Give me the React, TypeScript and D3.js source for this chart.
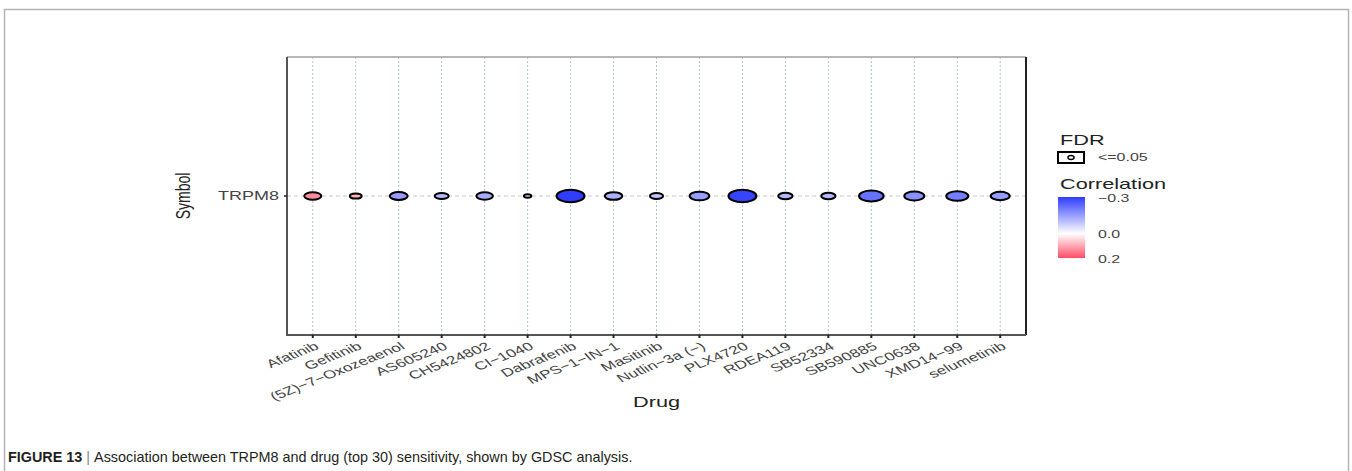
import React, { useEffect, useRef } from 'react';
import * as d3 from 'd3';

const drugs = [
  'Afatinib', 'Gefitinib', '(5Z)−7−Oxozeaenol', 'AS605240', 'CH5424802', 'CI−1040',
  'Dabrafenib', 'MPS−1−IN−1', 'Masitinib', 'Nutlin−3a (−)', 'PLX4720', 'RDEA119',
  'SB52334', 'SB590885', 'UNC0638', 'XMD14−99', 'selumetinib',
];
const symbols = ['TRPM8'];
// correlation of TRPM8 expression with drug sensitivity
const correlation = [0.13, 0.09, -0.15, -0.11, -0.13, -0.05, -0.3, -0.12, -0.09, -0.15, -0.29, -0.11, -0.11, -0.22, -0.17, -0.2, -0.15];
// bubble size (-log10 FDR, estimated)
const significance = [3.7, 1.8, 4.1, 2.5, 3.5, 0.7, 10, 3.9, 2.2, 4.9, 10, 2.6, 2.6, 7.7, 5.1, 6.2, 4.6];
const corrTicks = [-0.3, 0.0, 0.2];

const App = () => {
  const ref = useRef<SVGSVGElement>(null);

  useEffect(() => {
    const svg = d3.select(ref.current);
    svg.selectAll('*').remove();
    const font = 'Liberation Sans, Arial, sans-serif';
    const sx = 1.5; // the figure is stretched horizontally

    // outer figure border
    svg.append('rect')
      .attr('x', 4.5).attr('y', 9.5).attr('width', 1344).attr('height', 480)
      .attr('fill', 'none').attr('stroke', '#b4b4b4').attr('stroke-width', 1.5);

    const left = 287, right = 1026, top = 57, bottom = 335;

    const x = d3.scalePoint().domain(drugs).range([left, right]).padding(0.6);
    const y = d3.scalePoint().domain(symbols).range([top, bottom]).padding(0.5);
    const color = d3.scaleLinear<string>().domain([-0.3, 0, 0.2]).range(['#2f3dff', '#ffffff', '#ff4d66']).clamp(true);
    const rScale = d3.scaleSqrt().domain([0, 10]).range([0, 14]);

    const g = svg.append('g');

    // grid
    g.selectAll('.vgrid').data(drugs).enter().append('line')
      .attr('x1', d => x(d)!).attr('x2', d => x(d)!)
      .attr('y1', top).attr('y2', bottom)
      .attr('stroke', '#a9c3d3').attr('stroke-width', 1).attr('stroke-dasharray', '2,2');
    g.selectAll('.hgrid').data(symbols).enter().append('line')
      .attr('x1', left).attr('x2', right)
      .attr('y1', d => y(d)!).attr('y2', d => y(d)!)
      .attr('stroke', '#c8c8c8').attr('stroke-width', 1).attr('stroke-dasharray', '4,3');

    // panel frame
    g.append('line').attr('x1', left).attr('x2', right).attr('y1', top).attr('y2', top)
      .attr('stroke', '#a0a0a0').attr('stroke-width', 1.5);
    g.append('line').attr('x1', right).attr('x2', right).attr('y1', top).attr('y2', bottom)
      .attr('stroke', '#222').attr('stroke-width', 2);
    g.append('line').attr('x1', left).attr('x2', left).attr('y1', top).attr('y2', bottom + 1)
      .attr('stroke', '#555').attr('stroke-width', 2);
    g.append('line').attr('x1', left).attr('x2', right).attr('y1', bottom).attr('y2', bottom)
      .attr('stroke', '#555').attr('stroke-width', 2);

    // ticks
    g.selectAll('.xtick').data(drugs).enter().append('line')
      .attr('x1', d => x(d)!).attr('x2', d => x(d)!)
      .attr('y1', bottom).attr('y2', bottom + 3)
      .attr('stroke', '#222').attr('stroke-width', 2);
    g.selectAll('.ytick').data(symbols).enter().append('line')
      .attr('x1', left - 3).attr('x2', left)
      .attr('y1', d => y(d)!).attr('y2', d => y(d)!)
      .attr('stroke', '#222').attr('stroke-width', 1.5);

    g.selectAll('.xlab').data(drugs).enter().append('text')
      .attr('transform', d => `translate(${x(d)! + 4},${bottom + 10}) scale(${sx},1) rotate(-31)`)
      .attr('text-anchor', 'end')
      .attr('dy', '0.35em')
      .attr('font-family', font).attr('font-size', 11.5).attr('fill', '#444')
      .text(d => d);
    g.selectAll('.ylab').data(symbols).enter().append('text')
      .attr('transform', d => `translate(${left - 8},${y(d)!}) scale(${sx},1)`)
      .attr('dy', '0.35em')
      .attr('text-anchor', 'end')
      .attr('font-family', font).attr('font-size', 12).attr('fill', '#444')
      .text(d => d);

    g.append('text').attr('transform', `translate(${(left + right) / 2},407) scale(1.55,1)`)
      .attr('text-anchor', 'middle').attr('font-family', font).attr('font-size', 14)
      .attr('fill', '#222').text('Drug');
    g.append('text').attr('transform', `translate(190,${y('TRPM8')!}) scale(1.4,1) rotate(-90)`)
      .attr('text-anchor', 'middle').attr('font-family', font).attr('font-size', 14)
      .attr('fill', '#222').text('Symbol');

    // bubbles
    g.selectAll('.bubble').data(drugs).enter().append('ellipse')
      .attr('cx', d => x(d)!)
      .attr('cy', y('TRPM8')!)
      .attr('rx', (d, i) => rScale(significance[i]))
      .attr('ry', (d, i) => rScale(significance[i]) * 0.44)
      .attr('fill', (d, i) => color(correlation[i]))
      .attr('stroke', '#000').attr('stroke-width', 2);

    // legend: FDR
    const lg = svg.append('g');
    lg.append('text').attr('transform', 'translate(1060,145) scale(1.55,1)').attr('font-family', font)
      .attr('font-size', 14).attr('fill', '#222').text('FDR');
    lg.append('rect').attr('x', 1058).attr('y', 152).attr('width', 26).attr('height', 11)
      .attr('fill', 'none').attr('stroke', '#000').attr('stroke-width', 2);
    lg.append('ellipse').attr('cx', 1071).attr('cy', 157.5).attr('rx', 3).attr('ry', 2)
      .attr('fill', 'none').attr('stroke', '#000').attr('stroke-width', 1.5);
    lg.append('text').attr('transform', 'translate(1098,157.5) scale(1.45,1)').attr('dy', '0.35em')
      .attr('font-family', font).attr('font-size', 11).attr('fill', '#444').text('<=0.05');

    // legend: correlation colour bar
    lg.append('text').attr('transform', 'translate(1060,189) scale(1.55,1)').attr('font-family', font)
      .attr('font-size', 14).attr('fill', '#222').text('Correlation');
    const barTop = 197, barBottom = 258;
    const cy = d3.scaleLinear().domain([-0.3, 0.2]).range([barTop, barBottom]);
    const defs = svg.append('defs');
    const grad = defs.append('linearGradient').attr('id', 'corrGrad')
      .attr('x1', 0).attr('x2', 0).attr('y1', 0).attr('y2', 1);
    d3.range(0, 1.0001, 0.1).forEach(t => {
      const v = cy.invert(barTop + t * (barBottom - barTop));
      grad.append('stop').attr('offset', `${t * 100}%`).attr('stop-color', color(v));
    });
    lg.append('rect').attr('x', 1058).attr('y', barTop).attr('width', 27)
      .attr('height', barBottom - barTop).attr('fill', 'url(#corrGrad)');
    lg.selectAll('.ctick').data(corrTicks).enter().append('text')
      .attr('transform', d => `translate(1098,${cy(d) + 1}) scale(1.45,1)`).attr('dy', '0.35em')
      .attr('font-family', font).attr('font-size', 11).attr('fill', '#444')
      .text(d => d3.format('.1f')(d).replace('-', '−'));

    // caption
    const cap = svg.append('text').attr('transform', 'translate(8,462) scale(0.96,1)')
      .attr('font-family', font).attr('font-size', 15).attr('fill', '#231f20');
    cap.append('tspan').attr('font-weight', 'bold').text('FIGURE 13');
    cap.append('tspan').attr('fill', '#888').text(' | ');
    cap.append('tspan').text('Association between TRPM8 and drug (top 30) sensitivity, shown by GDSC analysis.');
  }, []);

  return (
    <svg ref={ref} width={1352} height={471}
      style={{ position: 'absolute', left: 0, top: 0, background: '#fff' }} />
  );
};

export default App;
